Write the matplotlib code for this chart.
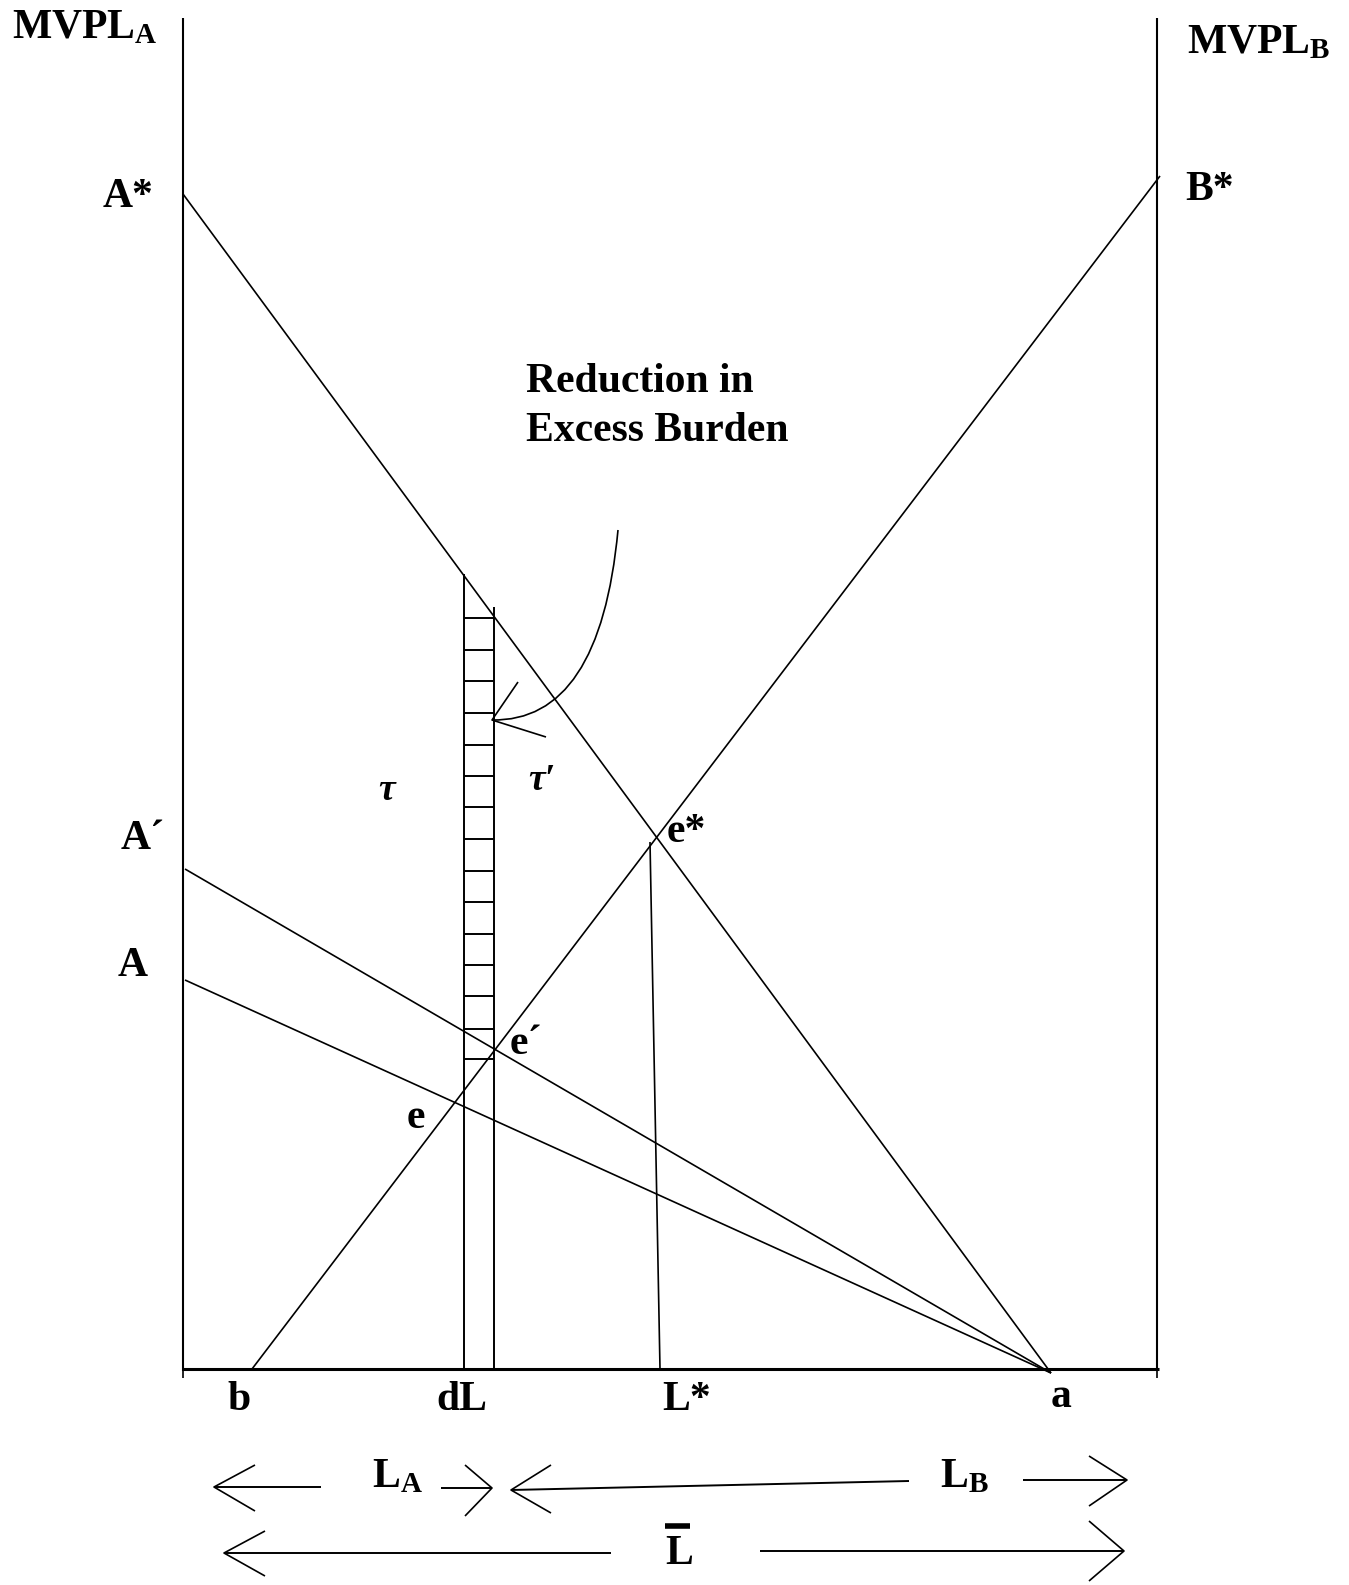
import matplotlib.pyplot as plt
from matplotlib.path import Path
from matplotlib.patches import PathPatch

plt.rcParams['mathtext.fontset'] = 'custom'
plt.rcParams['mathtext.rm'] = 'Liberation Serif'
plt.rcParams['mathtext.bf'] = 'Liberation Serif:bold'
plt.rcParams['mathtext.it'] = 'Liberation Serif:italic'

SERIF = ['Liberation Serif', 'DejaVu Serif']

# diagram geometry, in reference pixel units (x right, y down)
left_axis = [(183, 18), (183, 1371)]
right_axis = [(1157, 18), (1157, 1371)]
base_axis = [(182, 1369), (1159, 1369)]

# MVPL schedules: (start, end)
curve_A_star = [(183, 194), (1051, 1373)]
curve_B_star = [(1160, 176), (252, 1369)]
curve_A_prime = [(185, 869), (1051, 1373)]
curve_A = [(185, 980), (1051, 1373)]
drop_L_star = [(650, 842), (660, 1369)]

# dL strip
dL_left_x, dL_left_top = 464, 574
dL_right_x, dL_right_top = 494, 607
hatch_y = [618, 650, 681, 713, 745, 776, 807, 839, 871, 902, 934, 965, 996, 1029, 1059]

# curved pointer to the strip
pointer_ctrl = [(618, 530), (600, 722), (492, 720)]
pointer_head = [(518, 682), (492, 720), (546, 737)]

# bottom arrows: shafts and heads
arrow_shafts = [
    [(214, 1487), (321, 1487)],
    [(441, 1488), (492, 1488)],
    [(511, 1490), (909, 1481)],
    [(1023, 1480), (1127, 1480)],
    [(224, 1553), (611, 1553)],
    [(760, 1551), (1124, 1551)],
]
arrow_heads = [
    [(255, 1465), (214, 1487), (255, 1511)],
    [(465, 1465), (492, 1488), (465, 1516)],
    [(551, 1465), (511, 1490), (551, 1513)],
    [(1089, 1456), (1127, 1480), (1089, 1506)],
    [(265, 1531), (224, 1553), (265, 1576)],
    [(1089, 1521), (1124, 1551), (1089, 1581)],
]

# labels: (text, x, y) with left/baseline anchoring
big_labels = [
    (r'$\mathbf{MVPL}_{\mathbf{A}}$', 12, 38),
    (r'$\mathbf{MVPL}_{\mathbf{B}}$', 1187, 53),
    ('A*', 103, 207),
    ('B*', 1185, 200),
    ('Reduction in', 526, 392),
    ('Excess Burden', 526, 441),
    ('A\u00b4', 121, 849),
    ('e*', 667, 842),
    ('A', 118, 976),
    ('e\u00b4', 510, 1054),
    ('e', 407, 1128),
    ('b', 227, 1410),
    ('dL', 436, 1410),
    ('L*', 662, 1410),
    ('a', 1051, 1407),
    (r'$\mathbf{L}_{\mathbf{A}}$', 372, 1487),
    (r'$\mathbf{L}_{\mathbf{B}}$', 940, 1487),
    ('L', 665, 1564),
]
tau_labels = [('\u03c4', 378, 800), ('\u03c4\u2032', 528, 790)]
overbar = [(665, 1526), (690, 1526)]


def seg(ax, pts, lw=1.2):
    xs = [p[0] for p in pts]
    ys = [p[1] for p in pts]
    ax.plot(xs, ys, color='black', lw=lw, solid_capstyle='butt')


fig = plt.figure(figsize=(13.49, 15.85), dpi=100)
ax = fig.add_axes([0, 0, 1, 1])
ax.set_xlim(0, 1349)
ax.set_ylim(1585, 0)
ax.axis('off')

seg(ax, left_axis, 1.5)
seg(ax, right_axis, 1.5)
seg(ax, base_axis, 2.2)
# end ticks under the base line
seg(ax, [(183, 1369), (183, 1378)], 1.2)
seg(ax, [(1157, 1369), (1157, 1378)], 1.2)

for c in [curve_A_star, curve_B_star, curve_A_prime, curve_A, drop_L_star]:
    seg(ax, c)

seg(ax, [(dL_left_x, dL_left_top), (dL_left_x, 1369)], 1.4)
seg(ax, [(dL_right_x, dL_right_top), (dL_right_x, 1369)], 1.4)
for y in hatch_y:
    seg(ax, [(dL_left_x, y), (dL_right_x, y)], 1.4)

path = Path(pointer_ctrl, [Path.MOVETO, Path.CURVE3, Path.CURVE3])
ax.add_patch(PathPatch(path, fill=False, lw=1.2, edgecolor='black'))
seg(ax, pointer_head)

for s in arrow_shafts:
    seg(ax, s, 1.4)
for h in arrow_heads:
    seg(ax, h, 1.2)

for txt, x, y in big_labels:
    ax.text(x, y, txt, family=SERIF, fontweight='bold', fontsize=30,
            ha='left', va='baseline')
for txt, x, y in tau_labels:
    ax.text(x, y, txt, family=SERIF, style='italic', fontweight='bold',
            fontsize=27, ha='left', va='baseline')
seg(ax, overbar, 4)

fig.savefig('out.png', dpi=100)
